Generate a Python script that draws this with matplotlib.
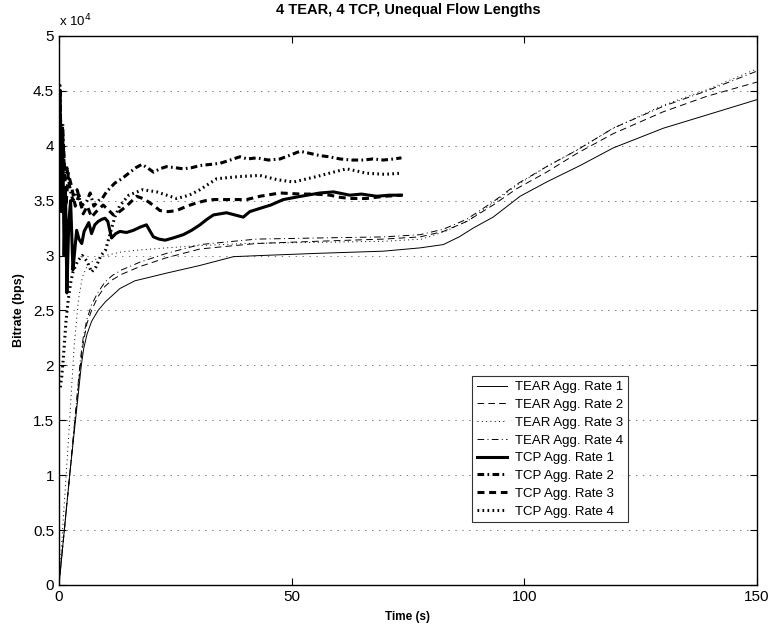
import numpy as np
import matplotlib
matplotlib.use("Agg")
import matplotlib.pyplot as plt
from matplotlib.ticker import FuncFormatter

plt.rcParams['font.family'] = ['Liberation Sans', 'DejaVu Sans']
plt.rcParams['lines.scale_dashes'] = False

# ---- data (bitrate in units of 1e4 bps) ----
tear1_t = [0, 2.3, 4.8, 5.3, 6.0, 7.0, 8.4, 10.0, 11.3, 13.1, 16.3, 20.2, 23.1, 30.3,
           37.5, 43.2, 55.4, 69.7, 77.6, 82.6, 86, 89, 93.3, 99.1, 104.8, 112, 119.1,
           129.9, 139.2, 150]
tear1_v = [0, 1.0, 2.0, 2.15, 2.28, 2.4, 2.5, 2.58, 2.63, 2.7, 2.77, 2.81, 2.84, 2.91,
           2.99, 3.0, 3.02, 3.04, 3.07, 3.10, 3.17, 3.25, 3.35, 3.54, 3.67, 3.82, 3.98,
           4.16, 4.28, 4.42]

tear2_t = [0, 2.3, 4.6, 5.2, 6.0, 7.0, 8.3, 9.9, 11.5, 13.5, 17.4, 23.1, 30.3, 37.5,
           42.5, 55.4, 69.7, 77.6, 82.6, 87.6, 93.3, 98.4, 104.8, 111.3, 119.1, 129.9,
           139.2, 150]
tear2_v = [0, 1.0, 2.0, 2.2, 2.38, 2.5, 2.62, 2.72, 2.78, 2.83, 2.90, 2.98, 3.06, 3.09,
           3.11, 3.13, 3.15, 3.17, 3.22, 3.31, 3.46, 3.61, 3.76, 3.93, 4.11, 4.31,
           4.45, 4.58]

tear3_t = [0, 2, 3.3, 4.2, 5, 6, 7.5, 10, 13, 17, 23, 30, 40, 55, 70, 78, 83, 88, 93.3,
           98.4, 104.8, 111.3, 119.1, 129.9, 139.2, 150]
tear3_v = [0, 1.3, 2.2, 2.6, 2.8, 2.9, 2.96, 3.0, 3.03, 3.05, 3.07, 3.09, 3.11, 3.12,
           3.13, 3.15, 3.22, 3.32, 3.48, 3.64, 3.81, 3.96, 4.16, 4.37, 4.51, 4.70]

tear4_t = tear2_t
tear4_v = [0, 1.0, 2.05, 2.25, 2.42, 2.55, 2.66, 2.76, 2.82, 2.87, 2.94, 3.02, 3.10,
           3.13, 3.15, 3.16, 3.17, 3.19, 3.24, 3.33, 3.49, 3.65, 3.81, 3.96, 4.16, 4.36,
           4.50, 4.68]

tcp1_t = [0, 0.2, 0.5, 0.8, 1.1, 1.4, 1.7, 2.1, 2.5, 3.0, 3.4, 3.8, 4.3, 4.9, 5.4, 5.9,
          6.4, 7.0, 7.7, 8.4, 9.2, 9.9, 10.5, 11.3, 12.2, 13.1, 14.5, 16, 17.5, 18.8,
          19.6, 20.3, 21.5, 22.8, 24.5, 26.7, 28.5, 30.3, 31.8, 33.2, 34.6, 36, 37.8,
          39.6, 41, 43.2, 45.5, 48.2, 52, 56.1, 59, 62.5, 65, 68.3, 71, 73.6]
tcp1_v = [4.0, 4.5, 3.4, 4.1, 3.0, 3.6, 2.66, 3.3, 3.5, 2.87, 3.05, 3.23, 3.15, 3.11,
          3.22, 3.26, 3.3, 3.2, 3.28, 3.31, 3.33, 3.34, 3.31, 3.16, 3.2, 3.22, 3.21,
          3.23, 3.26, 3.28, 3.22, 3.17, 3.15, 3.14, 3.16, 3.19, 3.23, 3.28, 3.33, 3.37,
          3.38, 3.39, 3.37, 3.35, 3.40, 3.43, 3.46, 3.51, 3.54, 3.57, 3.58, 3.55, 3.56,
          3.54, 3.55, 3.55]

tcp2_t = [0, 0.2, 0.5, 0.8, 1.2, 1.7, 2.4, 3.0, 3.9, 4.8, 6.0, 6.7, 7.5, 8.5, 9.3,
          10.2, 12, 13.5, 15.3, 16.5, 17.8, 19, 20.3, 21.7, 23.1, 25, 26.7, 28.5, 30.3,
          32.5, 34.6, 36.8, 38.9, 40.5, 42.5, 45, 47.5, 50, 51.8, 54, 56.1, 58, 60.4,
          63, 65.4, 67.5, 69.7, 72, 73.6]
tcp2_v = [3.5, 4.55, 3.9, 4.2, 3.7, 3.8, 3.6, 3.5, 3.6, 3.45, 3.5, 3.57, 3.45, 3.5,
          3.52, 3.58, 3.66, 3.7, 3.76, 3.8, 3.83, 3.8, 3.76, 3.79, 3.81, 3.8, 3.79, 3.8,
          3.82, 3.83, 3.84, 3.87, 3.9, 3.88, 3.89, 3.87, 3.88, 3.92, 3.95, 3.93, 3.91,
          3.9, 3.88, 3.87, 3.87, 3.88, 3.87, 3.88, 3.89]

tcp3_t = [0, 0.3, 0.6, 1.0, 1.5, 2.0, 2.7, 3.5, 4.3, 5.2, 6.1, 7.0, 8.0, 9.5, 10.5,
          11.7, 13, 14.5, 16.7, 18, 19.2, 20.5, 21.7, 23.5, 25.3, 27.5, 29.6, 31.5,
          33.2, 36.8, 40.3, 43.2, 47.5, 52, 55, 58.2, 60.5, 62.5, 66.1, 70, 73.6]
tcp3_v = [4.2, 4.3, 3.8, 4.0, 3.45, 3.75, 3.63, 3.45, 3.55, 3.38, 3.45, 3.35, 3.4,
          3.46, 3.42, 3.37, 3.4, 3.45, 3.54, 3.52, 3.49, 3.45, 3.41, 3.40, 3.41, 3.45,
          3.48, 3.5, 3.51, 3.51, 3.51, 3.54, 3.57, 3.56, 3.56, 3.55, 3.53, 3.52, 3.52,
          3.54, 3.55]

tcp4_t = [0.3, 0.6, 1.0, 1.5, 2.0, 2.5, 3.0, 4.0, 5.0, 6.0, 7.0, 8.0, 9.0, 10, 11, 12,
          13, 15, 18, 21, 25.3, 28, 30.3, 33.9, 38.9, 43.2, 47, 50.4, 55.4, 59, 61.8,
          64, 66.1, 70, 73.6]
tcp4_v = [1.8, 1.9, 2.1, 2.4, 2.6, 2.75, 2.85, 2.95, 3.0, 2.95, 2.85, 2.9, 3.0, 3.05,
          3.2, 3.35, 3.45, 3.55, 3.6, 3.58, 3.52, 3.55, 3.6, 3.7, 3.72, 3.73, 3.69, 3.67,
          3.72, 3.76, 3.79, 3.77, 3.75, 3.74, 3.75]

labels = ["TEAR Agg. Rate 1", "TEAR Agg. Rate 2", "TEAR Agg. Rate 3", "TEAR Agg. Rate 4",
          "TCP Agg. Rate 1", "TCP Agg. Rate 2", "TCP Agg. Rate 3", "TCP Agg. Rate 4"]
x_ticks = [0, 50, 100, 150]
y_ticks = [0, 0.5, 1, 1.5, 2, 2.5, 3, 3.5, 4, 4.5, 5]

series = [(tear1_t, tear1_v), (tear2_t, tear2_v), (tear3_t, tear3_v), (tear4_t, tear4_v),
          (tcp1_t, tcp1_v), (tcp2_t, tcp2_v), (tcp3_t, tcp3_v), (tcp4_t, tcp4_v)]

# line styles: thin for TEAR, thick for TCP (dash patterns in points)
thin, thick = 0.7, 2.2
styles = [
    dict(lw=thin, ls="-"),
    dict(lw=thin, ls=(0, (4.8, 3.0))),
    dict(lw=thin, ls=(0, (0.7, 2.4))),
    dict(lw=thin, ls=(0, (4.8, 2.4, 0.7, 2.4))),
    dict(lw=thick, ls="-"),
    dict(lw=thick, ls=(0, (4.8, 2.4, 1.2, 2.4))),
    dict(lw=thick, ls=(0, (5.0, 3.4))),
    dict(lw=thick, ls=(0, (1.2, 2.4))),
]

fig = plt.figure(figsize=(7.75, 6.41), dpi=100)
ax = fig.add_axes([0.0761, 0.0874, 0.9006, 0.8565])

for (t, v), st, lab in zip(series, styles, labels):
    ax.plot(t, np.array(v) * 1e4, color="black", label=lab, **st)

ax.set_xlim(0, 150)
ax.set_ylim(0, 5e4)
ax.set_xticks(x_ticks)
ax.set_yticks([y * 1e4 for y in y_ticks])
ax.yaxis.set_major_formatter(FuncFormatter(lambda v, p: f"{v / 1e4:g}"))
ax.tick_params(direction="in", length=5, top=True, right=True, labelsize=11, width=0.8)
ax.yaxis.grid(True, ls=(0, (1, 4)), color="black", lw=0.6, alpha=0.6)
for s in ax.spines.values():
    s.set_linewidth(1.0)

ax.text(0.0, 1.012, r"x 10$^4$", transform=ax.transAxes, fontsize=9.5,
        ha="left", va="bottom")
ax.set_title("4 TEAR, 4 TCP, Unequal Flow Lengths", fontsize=10.5,
             fontweight="bold", pad=16)
ax.set_xlabel("Time (s)", fontsize=8.5, fontweight="bold", labelpad=5)
ax.set_ylabel("Bitrate (bps)", fontsize=9, fontweight="bold", labelpad=6)

leg = ax.legend(loc="upper right", bbox_to_anchor=(0.815, 0.38), fontsize=9.5,
                handlelength=2.3, frameon=True, fancybox=False, borderpad=0.35,
                labelspacing=0.42, handletextpad=0.6, borderaxespad=0)
leg.get_frame().set_edgecolor("black")
leg.get_frame().set_linewidth(0.8)

fig.savefig("out.png", dpi=100)
